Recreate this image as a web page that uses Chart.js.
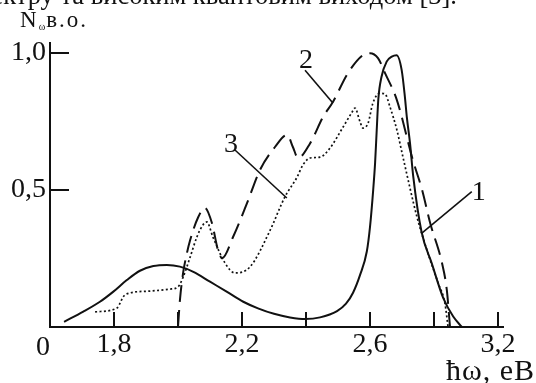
<!DOCTYPE html>
<html>
<head>
<meta charset="utf-8">
<script src="https://cdn.jsdelivr.net/npm/chart.js@4.4.0/dist/chart.umd.min.js"></script>
<style>
    html, body { margin: 0; padding: 0; background: #fff; }
    #wrap { position: relative; width: 536px; height: 383px; overflow: hidden; }
    .txt { position: absolute; font-family: "Liberation Serif", serif; color: #111; white-space: nowrap; }
</style>
</head>
<body>
<div id="wrap">
    <canvas id="spectra" width="536" height="383"></canvas>
    <div class="txt" style="right:79px; top:-19px; font-size:26.5px; line-height:28px;">спектру та високим квантовим виходом [3].</div>
    <div class="txt" style="left:20px; top:8px; font-size:23px; line-height:23px; letter-spacing:2px;">N<span style="font-size:10px; position:relative; top:3px; letter-spacing:1px;">ω</span>в.о.</div>
    <div class="txt" style="left:446px; top:355px; font-size:30px; line-height:30px; letter-spacing:1px;">ħω, eB</div>
</div>
<script>
// photon energy axis (eV) and tick labels
var tickValues = [1.6, 1.8, 2.0, 2.2, 2.4, 2.6, 2.8, 3.0];
var tickLabels = ['0', '1,8', '', '2,2', '', '2,6', '', '3,2'];
var yTickValues = [0, 0.5, 1.0];
var yTickLabels = ['', '0,5', '1,0'];

// curve 1 (solid)
var curve1E = [1.644, 1.704, 1.756, 1.798, 1.840, 1.881, 1.923, 1.965, 2.006, 2.048, 2.100, 2.152, 2.204, 2.250, 2.300, 2.350, 2.397, 2.444, 2.497, 2.525, 2.547, 2.569, 2.590, 2.600, 2.610, 2.616, 2.621, 2.626, 2.636, 2.652, 2.668, 2.683, 2.699, 2.709, 2.715, 2.725, 2.735, 2.761, 2.793, 2.829, 2.860, 2.887];
var curve1N = [0.019, 0.056, 0.092, 0.129, 0.171, 0.205, 0.222, 0.226, 0.220, 0.201, 0.165, 0.129, 0.092, 0.068, 0.048, 0.035, 0.029, 0.035, 0.058, 0.085, 0.125, 0.190, 0.275, 0.365, 0.500, 0.600, 0.718, 0.830, 0.912, 0.967, 0.985, 0.990, 0.936, 0.839, 0.766, 0.670, 0.550, 0.347, 0.232, 0.105, 0.038, 0.000];

// curve 2 (dashed)
var curve2E = [2.000, 2.006, 2.016, 2.028, 2.038, 2.063, 2.084, 2.106, 2.125, 2.138, 2.172, 2.216, 2.256, 2.303, 2.341, 2.359, 2.375, 2.413, 2.453, 2.484, 2.531, 2.578, 2.600, 2.625, 2.647, 2.684, 2.734, 2.763, 2.788, 2.825, 2.840, 2.850];
var curve2N = [0.000, 0.098, 0.197, 0.270, 0.317, 0.400, 0.434, 0.379, 0.280, 0.251, 0.328, 0.452, 0.572, 0.656, 0.700, 0.656, 0.616, 0.670, 0.765, 0.820, 0.925, 0.991, 0.998, 0.980, 0.925, 0.827, 0.608, 0.499, 0.379, 0.233, 0.135, 0.000];

// curve 3 (dotted)
var curve3E = [1.741, 1.809, 1.819, 1.828, 1.850, 1.913, 1.975, 2.000, 2.016, 2.038, 2.059, 2.078, 2.090, 2.109, 2.147, 2.178, 2.225, 2.288, 2.334, 2.372, 2.390, 2.413, 2.444, 2.475, 2.516, 2.544, 2.553, 2.569, 2.578, 2.594, 2.609, 2.631, 2.647, 2.663, 2.684, 2.703, 2.747, 2.778, 2.813, 2.834, 2.844];
var curve3N = [0.055, 0.069, 0.087, 0.109, 0.124, 0.131, 0.138, 0.146, 0.182, 0.255, 0.328, 0.372, 0.383, 0.328, 0.233, 0.197, 0.219, 0.353, 0.474, 0.546, 0.590, 0.616, 0.619, 0.652, 0.729, 0.783, 0.798, 0.747, 0.725, 0.743, 0.816, 0.852, 0.849, 0.800, 0.718, 0.619, 0.400, 0.280, 0.160, 0.087, 0.000];

// curve numbers and their leader lines
var curveNames = ['1', '2', '3'];
var nameE = [2.940, 2.400, 2.166];
var nameN = [0.492, 0.976, 0.670];
var leaderE = [[2.918, 2.761], [2.397, 2.484], [2.178, 2.340]];
var leaderN = [[0.493, 0.341], [0.936, 0.816], [0.645, 0.470]];

var ink = '#111';
var serif = 'Liberation Serif';

function points(xs, ys) {
    var pts = [];
    for (var i = 0; i < xs.length; i++) {
        pts.push({x: xs[i], y: ys[i]});
    }
    return pts;
}

var datasets = [
    {data: points(curve1E, curve1N), borderWidth: 2},
    {data: points(curve2E, curve2N), borderWidth: 2, borderDash: [17, 8]},
    {data: points(curve3E, curve3N), borderWidth: 1.7, borderDash: [2, 2.4]}
];
datasets.forEach(function (d) {
    d.showLine = true;
    d.borderColor = ink;
    d.pointRadius = 0;
    d.cubicInterpolationMode = 'monotone';
});
for (var k = 0; k < leaderE.length; k++) {
    datasets.push({
        data: points(leaderE[k], leaderN[k]),
        showLine: true,
        borderColor: ink,
        borderWidth: 1.6,
        pointRadius: 0,
        tension: 0
    });
}

// inward tick marks, the origin "0" and the curve numbers
var marks = {
    id: 'marks',
    afterDraw: function (chart) {
        var c = chart.ctx;
        var xs = chart.scales.x;
        var ys = chart.scales.y;
        var base = Math.round(ys.getPixelForValue(0));
        var left = Math.round(xs.getPixelForValue(tickValues[0]));
        c.save();
        c.fillStyle = ink;
        for (var i = 1; i < tickValues.length; i++) {
            var px = Math.round(xs.getPixelForValue(tickValues[i]));
            c.fillRect(px - 1, base - 15, 2, 15);
        }
        for (var j = 1; j < yTickValues.length; j++) {
            var py = Math.round(ys.getPixelForValue(yTickValues[j]));
            c.fillRect(left, py - 1, 19, 2);
        }

        c.font = '28px "' + serif + '"';
        c.textAlign = 'center';
        c.textBaseline = 'alphabetic';
        c.fillText(tickLabels[0], left - 7, 355);
        c.textBaseline = 'middle';
        for (var n = 0; n < curveNames.length; n++) {
            c.fillText(curveNames[n], xs.getPixelForValue(nameE[n]), ys.getPixelForValue(nameN[n]) + 1);
        }
        c.restore();
    }
};

var ctx = document.getElementById('spectra');
new Chart(ctx, {
    type: 'scatter',
    data: {datasets: datasets},
    options: {
        responsive: false,
        animation: false,
        devicePixelRatio: 1,
        layout: {padding: {top: 43, right: 33, left: 0, bottom: 0}},
        plugins: {
            legend: {display: false},
            tooltip: {enabled: false}
        },
        scales: {
            x: {
                type: 'linear',
                min: 1.6,
                max: 3.0156,
                afterFit: function (s) { s.height = 56; },
                afterBuildTicks: function (s) {
                    s.ticks = tickValues.map(function (v) { return {value: v}; });
                },
                ticks: {
                    autoSkip: false,
                    maxRotation: 0,
                    padding: 1,
                    color: ink,
                    font: {family: serif, size: 28},
                    callback: function (v, i) { return i === 0 ? '' : tickLabels[i]; }
                },
                grid: {display: true, drawOnChartArea: false, drawTicks: false},
                border: {display: true, color: ink, width: 2}
            },
            y: {
                type: 'linear',
                min: 0,
                max: 1.035,
                afterFit: function (s) { s.width = 50; },
                afterBuildTicks: function (s) {
                    s.ticks = yTickValues.map(function (v) { return {value: v}; });
                },
                ticks: {
                    autoSkip: false,
                    padding: 4,
                    color: ink,
                    font: {family: serif, size: 28},
                    callback: function (v, i) { return yTickLabels[i]; }
                },
                grid: {display: true, drawOnChartArea: false, drawTicks: false},
                border: {display: true, color: ink, width: 2}
            }
        }
    },
    plugins: [marks]
});
</script>
</body>
</html>
